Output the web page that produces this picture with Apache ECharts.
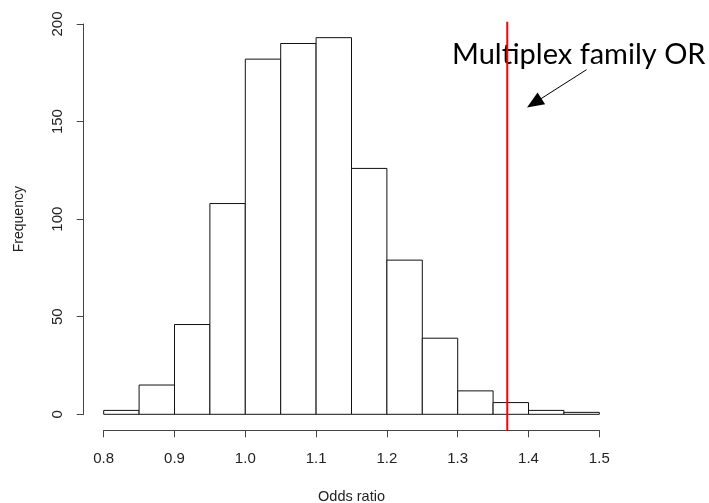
<!DOCTYPE html>
<html><head><meta charset="utf-8">
<script src="https://cdn.jsdelivr.net/npm/echarts@6/dist/echarts.min.js"></script>
<style>html,body{margin:0;padding:0;background:#fff}#c{width:709px;height:503px}</style>
</head><body><div id="c"></div>
<script>
// Histogram bins (left edges, width 0.05) and counts
const binStarts = [0.80,0.85,0.90,0.95,1.00,1.05,1.10,1.15,1.20,1.25,1.30,1.35,1.40,1.45];
const binWidth = 0.05;
const counts = [2,15,46,108,182,190,193,126,79,39,12,6,2,1];
const xTicks = [0.8,0.9,1.0,1.1,1.2,1.3,1.4,1.5];
const yTicks = [0,50,100,150,200];
const familyOR = 1.37;
const orLineSpan = [-8.4, 201.2];
const arrowFrom = [1.482, 176.6];
const arrowTo = [1.408, 159.5];
const annotationText = 'Multiplex family OR';

const chart = echarts.init(document.getElementById('c'), null, {renderer:'canvas'});
const axisColor = '#444';
const font = 'Liberation Sans, Arial, sans-serif';
const binData = binStarts.map((s,i)=>[s, s+binWidth, counts[i]]);

chart.setOption({
  animation:false,
  backgroundColor:'#fff',
  grid:{left:103.7, right:109.7, top:24, bottom:88.7, containLabel:false, outerBoundsMode:'none'},
  xAxis:{
    type:'value', min:xTicks[0], max:xTicks[xTicks.length-1], interval:0.1,
    offset:16,
    axisLine:{show:true, onZero:false, lineStyle:{color:axisColor, width:1}},
    axisTick:{show:true, length:7, lineStyle:{color:axisColor}},
    axisLabel:{color:'#222', fontSize:15, fontFamily:font, margin:21, formatter:v=>v.toFixed(1)},
    splitLine:{show:false},
    name:'Odds ratio', nameLocation:'middle', nameGap:59,
    nameTextStyle:{color:'#222', fontSize:14.5, fontFamily:font}
  },
  yAxis:{
    type:'value', min:yTicks[0], max:yTicks[yTicks.length-1], interval:50,
    offset:20,
    axisLine:{show:true, lineStyle:{color:axisColor, width:1}},
    axisTick:{show:true, length:7, lineStyle:{color:axisColor}},
    axisLabel:{color:'#222', fontSize:15, fontFamily:font, rotate:90, margin:18},
    splitLine:{show:false},
    name:'Frequency', nameLocation:'middle', nameGap:58, nameRotate:90,
    nameTextStyle:{color:'#222', fontSize:14, fontFamily:font}
  },
  series:[
    {
      type:'custom',
      data:binData,
      renderItem:function(params, api){
        const p0 = api.coord([api.value(0), api.value(2)]);
        const p1 = api.coord([api.value(1), 0]);
        return {type:'rect', shape:{x:p0[0], y:p0[1], width:p1[0]-p0[0], height:p1[1]-p0[1]},
          style:{fill:'#fff', stroke:'#111', lineWidth:1}};
      },
      encode:{x:[0,1], y:2}
    },
    {
      type:'line',
      data:[[familyOR, orLineSpan[0]],[familyOR, orLineSpan[1]]],
      symbol:'none', clip:false,
      lineStyle:{color:'#ff0000', width:2},
      z:5,
      markLine:{
        silent:true, symbol:['none','triangle'], symbolSize:[14,17],
        lineStyle:{color:'#000', width:1, type:'solid'},
        label:{show:false},
        data:[[{coord:arrowFrom},{coord:arrowTo}]]
      }
    }
  ],
  graphic:[
    {type:'text', left:452, top:40,
     style:{text:annotationText, fontSize:29, fontFamily:'Lato, Carlito, sans-serif', fill:'#000'}}
  ]
});
</script>
</body></html>
